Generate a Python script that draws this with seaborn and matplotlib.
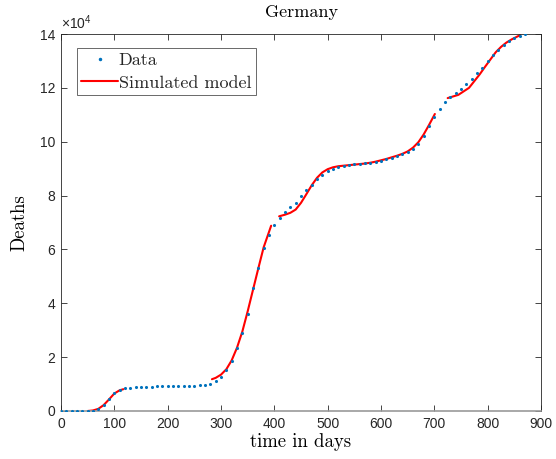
import numpy as np
import pandas as pd
import matplotlib
matplotlib.use("Agg")
import matplotlib.pyplot as plt
import seaborn as sns
from matplotlib.lines import Line2D
from matplotlib.ticker import FuncFormatter

# Reported cumulative deaths, sampled every 10 days (thousands)
data_days = list(range(0, 880, 10))
data_deaths_k = [
    0, 0, 0, 0, 0, 0, 0.1, 0.6, 2.3, 4.4,
    6.6, 7.9, 8.5, 8.7, 8.8, 8.9, 9.0, 9.05, 9.1, 9.15,
    9.2, 9.25, 9.3, 9.35, 9.4, 9.45, 9.5, 9.7, 10.1, 11.1,
    12.6, 15.2, 18.5, 23.5, 29.0, 36.0, 45.5, 53.0, 60.5, 65.2,
    69.0, 71.8, 74.0, 75.7, 77.2, 79.7, 81.9, 84.0, 86.0, 87.8,
    89.2, 90.0, 90.5, 91.0, 91.4, 91.7, 91.8, 92.0, 92.2, 92.6,
    93.0, 93.5, 94.1, 94.7, 95.3, 96.0, 97.3, 99.2, 102.2, 105.8,
    109.0, 112.2, 114.6, 116.6, 118.0, 119.6, 121.4, 123.4, 125.6, 127.3,
    130.0, 132.2, 134.1, 135.8, 137.3, 138.5, 139.3, 140.0,
]

# Fitted model, one segment per epidemic wave (thousands)
wave1_days = [50, 60, 70, 80, 90, 100, 110, 117]
wave1_deaths_k = [0, 0.2, 0.8, 2.2, 4.3, 6.5, 7.7, 8.1]
wave2_days = [283, 290, 300, 310, 320, 330, 340, 350, 360, 370, 380, 390, 394]
wave2_deaths_k = [11.8, 12.3, 13.5, 15.5, 18.8, 23.5, 29.5, 37.0, 45.0, 53.0, 60.8, 66.5, 68.8]
wave3_days = [409, 420, 430, 440, 450, 460, 470, 480, 490, 500, 510, 520, 530, 540,
              550, 560, 570, 580, 590, 600, 610, 620, 630, 640, 650, 660, 670, 680,
              690, 701]
wave3_deaths_k = [72.3, 72.9, 73.6, 74.8, 77.3, 80.5, 83.8, 86.6, 88.6, 89.8, 90.5,
                  90.9, 91.1, 91.3, 91.5, 91.7, 91.9, 92.2, 92.6, 93.1, 93.6, 94.2,
                  94.8, 95.5, 96.4, 97.8, 99.8, 102.7, 106.2, 110.3]
wave4_days = [725, 735, 745, 755, 765, 775, 785, 795, 805, 815, 825, 835, 845, 855, 861]
wave4_deaths_k = [116.2, 116.8, 117.4, 118.7, 120.0, 122.5, 125.0, 127.8, 130.5,
                  133.2, 135.2, 136.8, 138.0, 139.0, 139.6]

x_ticks = list(range(0, 1000, 100))
y_ticks = list(range(0, 160000, 20000))

data_df = pd.DataFrame({"day": data_days,
                        "deaths": np.array(data_deaths_k) * 1000})
model_df = pd.concat([
    pd.DataFrame({"day": d, "deaths": np.array(v) * 1000, "wave": i})
    for i, (d, v) in enumerate([(wave1_days, wave1_deaths_k),
                                (wave2_days, wave2_deaths_k),
                                (wave3_days, wave3_deaths_k),
                                (wave4_days, wave4_deaths_k)])
], ignore_index=True)

sns.set_style("white")
plt.rcParams["font.family"] = ["Liberation Sans", "DejaVu Sans"]
plt.rcParams["mathtext.fontset"] = "custom"
plt.rcParams["mathtext.rm"] = "Liberation Sans"
plt.rcParams["mathtext.it"] = "Liberation Sans"

fig = plt.figure(figsize=(5.56, 4.59), dpi=100)
ax = fig.add_axes([61 / 556, 1 - 411 / 459, 480 / 556, 377 / 459])

blue = "#0072BD"
red = "#FF0000"
sns.lineplot(data=model_df, x="day", y="deaths", units="wave", estimator=None,
             color=red, linewidth=1.5, ax=ax, zorder=2)
sns.scatterplot(data=data_df, x="day", y="deaths", color=blue, s=5,
                linewidth=0, ax=ax, zorder=3)

ax.set_xlim(0, 900)
ax.set_ylim(0, 140000)
ax.set_xticks(x_ticks)
ax.set_yticks(y_ticks)
ax.yaxis.set_major_formatter(FuncFormatter(lambda v, _: f"{v / 1e4:g}"))
ax.text(0.0, 1.006, r"$\times10^{4}$", transform=ax.transAxes, ha="left",
        va="bottom", fontsize=10, color="#262626")

axis_col = "#262626"
for name, sp in ax.spines.items():
    sp.set_visible(True)
    sp.set_color(axis_col)
    sp.set_linewidth(0.6)
ax.spines["bottom"].set_color("#999999")
ax.spines["bottom"].set_linewidth(1.2)
ax.tick_params(direction="in", length=4, width=0.6, color=axis_col,
               labelsize=10, labelcolor="#262626", top=True, right=True,
               left=True, bottom=True, pad=4)

serif = "cmr10"
ax.set_xlabel("time in days", family=serif, fontsize=13.5, color="black", labelpad=2)
ax.set_ylabel("Deaths", family=serif, fontsize=13.5, color="black", labelpad=8)
ax.set_title("Germany", family=serif, fontsize=13, color="black", pad=12)

handles = [
    Line2D([], [], color=blue, marker=".", linestyle="none", markersize=3),
    Line2D([], [], color=red, linewidth=1.5),
]
leg = ax.legend(handles, ["Data", "Simulated model"], loc="upper left",
                bbox_to_anchor=(0.022, 0.978), prop={"family": serif, "size": 13},
                frameon=True, fancybox=False, edgecolor=axis_col,
                handlelength=2.0, handletextpad=0.05, borderpad=0.25,
                labelspacing=0.4, borderaxespad=0.3)
leg.get_frame().set_linewidth(0.6)

fig.savefig("out.png", dpi=100, facecolor="white")
